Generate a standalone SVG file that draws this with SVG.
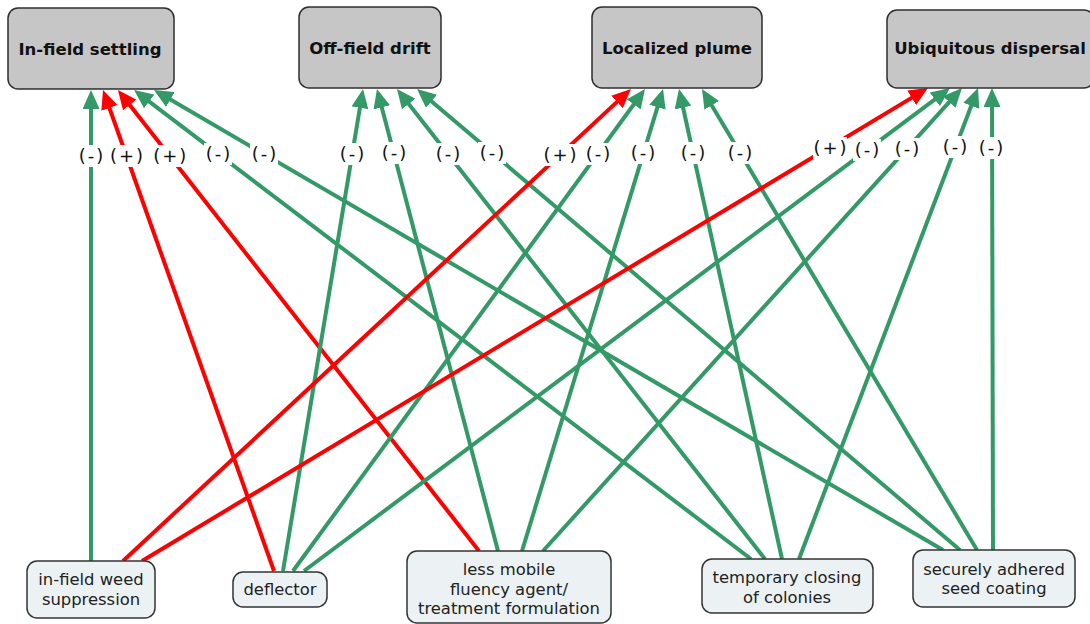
<svg xmlns="http://www.w3.org/2000/svg" width="1090" height="624" viewBox="0 0 1090 624">
<defs>
<marker id="ag" markerUnits="userSpaceOnUse" markerWidth="19" markerHeight="17" viewBox="0 0 19 17" refX="11" refY="8.5" orient="auto"><path d="M0,0 L19,8.5 L0,17 z" fill="#339966"/></marker>
<marker id="ar" markerUnits="userSpaceOnUse" markerWidth="19" markerHeight="17" viewBox="0 0 19 17" refX="11" refY="8.5" orient="auto"><path d="M0,0 L19,8.5 L0,17 z" fill="#ff0000"/></marker>
</defs>
<style>
.top rect{fill:#c6c6c6;stroke:#2e2e2e;stroke-width:1.5}
.top text{font-family:"DejaVu Sans",Verdana,sans-serif;font-weight:bold;font-size:16.5px;fill:#111;text-anchor:middle}
.bot rect{fill:#ecf2f4;stroke:#333;stroke-width:1.5}
.bot text{font-family:"DejaVu Sans",Verdana,sans-serif;font-size:16.4px;fill:#222;text-anchor:middle}
.g{stroke:#339966;stroke-width:4;fill:none;marker-end:url(#ag)}
.r{stroke:#ff0000;stroke-width:4;fill:none;marker-end:url(#ar)}
.lb rect{fill:#fff}
.lb text{font-family:"DejaVu Sans",Verdana,sans-serif;font-size:18px;fill:#111;text-anchor:middle;letter-spacing:2px}
</style>
<g id="connectors">
<line class="g" x1="91" y1="561" x2="91" y2="98"/>
<line class="r" x1="274" y1="571" x2="105.7" y2="97.5"/>
<line class="r" x1="479" y1="551" x2="122.9" y2="96.3"/>
<line class="g" x1="751" y1="559" x2="140.4" y2="94.8"/>
<line class="g" x1="943" y1="550" x2="160.9" y2="94"/>
<line class="g" x1="283" y1="571" x2="361.7" y2="96.9"/>
<line class="g" x1="498" y1="551" x2="379" y2="96.7"/>
<line class="g" x1="765" y1="559" x2="401.9" y2="95.3"/>
<line class="g" x1="960" y1="550" x2="423.1" y2="94.2"/>
<line class="r" x1="123" y1="561" x2="625.1" y2="94.4"/>
<line class="g" x1="293" y1="571" x2="640.3" y2="95.5"/>
<line class="g" x1="522" y1="551" x2="660.7" y2="96.7"/>
<line class="g" x1="782" y1="559" x2="680.7" y2="96.8"/>
<line class="g" x1="977" y1="550" x2="706.1" y2="95.9"/>
<line class="r" x1="142" y1="561" x2="921.1" y2="92.1"/>
<line class="g" x1="304" y1="571" x2="943.6" y2="92.8"/>
<line class="g" x1="543" y1="551" x2="956.6" y2="93.9"/>
<line class="g" x1="799" y1="559" x2="975.2" y2="95.5"/>
<line class="g" x1="993" y1="550" x2="992" y2="96"/>
</g>
<g id="labels" class="lb">
<g><rect x="77" y="145" width="28" height="22"/><text x="92" y="161.7">(-)</text></g>
<g><rect x="109.5" y="145" width="34" height="22"/><text x="127.5" y="161.7">(+)</text></g>
<g><rect x="152.7" y="145" width="34" height="22"/><text x="170.7" y="161.7">(+)</text></g>
<g><rect x="204" y="143" width="28" height="22"/><text x="219" y="159.7">(-)</text></g>
<g><rect x="250" y="143" width="28" height="22"/><text x="265" y="159.7">(-)</text></g>
<g><rect x="338" y="143" width="28" height="22"/><text x="353" y="159.7">(-)</text></g>
<g><rect x="380" y="142" width="28" height="22"/><text x="395" y="158.7">(-)</text></g>
<g><rect x="434" y="143" width="28" height="22"/><text x="449" y="159.7">(-)</text></g>
<g><rect x="478" y="142" width="28" height="22"/><text x="493" y="158.7">(-)</text></g>
<g><rect x="543" y="144" width="34" height="22"/><text x="561" y="160.7">(+)</text></g>
<g><rect x="584" y="143" width="28" height="22"/><text x="599" y="159.7">(-)</text></g>
<g><rect x="629" y="142" width="28" height="22"/><text x="644" y="158.7">(-)</text></g>
<g><rect x="679" y="142" width="28" height="22"/><text x="694" y="158.7">(-)</text></g>
<g><rect x="726" y="142" width="28" height="22"/><text x="741" y="158.7">(-)</text></g>
<g><rect x="813" y="137" width="34" height="22"/><text x="831" y="153.7">(+)</text></g>
<g><rect x="853" y="139" width="28" height="22"/><text x="868" y="155.7">(-)</text></g>
<g><rect x="893" y="138" width="28" height="22"/><text x="908" y="154.7">(-)</text></g>
<g><rect x="941" y="136" width="28" height="22"/><text x="956" y="152.7">(-)</text></g>
<g><rect x="977" y="137" width="28" height="22"/><text x="992" y="153.7">(-)</text></g>
</g>
<g id="n-infield" class="top"><rect x="8" y="8" width="166" height="81" rx="10"/><text x="90" y="55">In-field settling</text></g>
<g id="n-offfield" class="top"><rect x="299" y="7" width="142" height="81" rx="10"/><text x="370" y="54">Off-field drift</text></g>
<g id="n-plume" class="top"><rect x="592" y="7" width="170" height="81" rx="10"/><text x="677" y="54">Localized plume</text></g>
<g id="n-ubiq" class="top"><rect x="887" y="10" width="207" height="78" rx="10"/><text x="990" y="54">Ubiquitous dispersal</text></g>
<g id="n-weed" class="bot"><rect x="27" y="561" width="128" height="57" rx="10"/><text x="91" y="585">in-field weed</text><text x="91" y="605">suppression</text></g>
<g id="n-deflector" class="bot"><rect x="233" y="572" width="94" height="35" rx="10"/><text x="280" y="595">deflector</text></g>
<g id="n-lessmobile" class="bot"><rect x="407" y="551" width="204" height="72" rx="10"/><text x="509" y="575">less mobile</text><text x="509" y="595">fluency agent/</text><text x="509" y="614">treatment formulation</text></g>
<g id="n-temporary" class="bot"><rect x="702" y="559" width="171" height="54" rx="10"/><text x="787" y="583">temporary closing</text><text x="787" y="603">of colonies</text></g>
<g id="n-seed" class="bot"><rect x="913" y="550" width="162" height="57" rx="10"/><text x="994" y="575">securely adhered</text><text x="994" y="594">seed coating</text></g>
</svg>
